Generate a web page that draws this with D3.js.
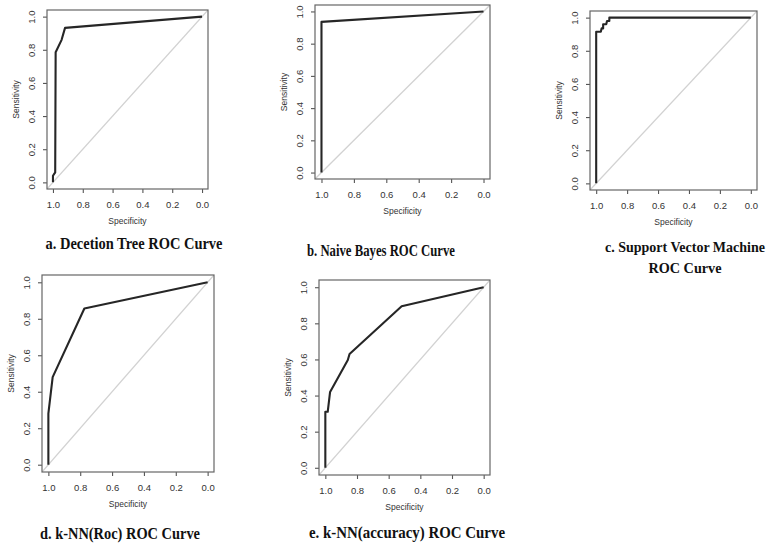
<!DOCTYPE html>
<html>
<head>
<meta charset="utf-8">
<script src="https://cdn.jsdelivr.net/npm/d3@7"></script>
<style>
  body { margin: 0; background: #fff; }
  svg { display: block; }
</style>
</head>
<body>
<div id="chart"></div>
<script>
// ROC curves: specificity (x, reversed) vs sensitivity (y)
const tickValues = [1.0, 0.8, 0.6, 0.4, 0.2, 0.0];

const treeSpec = [1, 1, 0.985, 0.982, 0.942, 0.919, 0];
const treeSens = [0, 0.04, 0.06, 0.785, 0.86, 0.932, 1];

const bayesSpec = [1, 1, 0];
const bayesSens = [0, 0.935, 1];

const svmSpec = [1, 1, 0.97, 0.965, 0.955, 0.955, 0.935, 0.93, 0.915, 0.915, 0];
const svmSens = [0, 0.915, 0.915, 0.935, 0.935, 0.96, 0.96, 0.98, 0.98, 1, 1];

const knnRocSpec = [1, 1, 0.973, 0.774, 0];
const knnRocSens = [0, 0.28, 0.48, 0.856, 1];

const knnAccSpec = [1, 1, 0.985, 0.97, 0.858, 0.847, 0.518, 0];
const knnAccSens = [0, 0.31, 0.31, 0.42, 0.597, 0.63, 0.895, 1];

const captions = [
  ['a. Decetion Tree ROC Curve'],
  ['b. Naive Bayes ROC Curve'],
  ['c. Support Vector Machine', 'ROC Curve'],
  ['d. k-NN(Roc) ROC Curve'],
  ['e. k-NN(accuracy) ROC Curve']
];

const series = [
  [treeSpec, treeSens],
  [bayesSpec, bayesSens],
  [svmSpec, svmSens],
  [knnRocSpec, knnRocSens],
  [knnAccSpec, knnAccSens]
];

// panel layout: plot box, caption position, width and size
const panels = [
  { x0: 47, x1: 208, y0: 10, y1: 189, cx: 134, cy: [249], cw: [177], fs: 16 },
  { x0: 315, x1: 490, y0: 5, y1: 179, cx: 381, cy: [256], cw: [148], fs: 16 },
  { x0: 590, x1: 757, y0: 11, y1: 190, cx: 685, cy: [252, 273], cw: [160, 73], fs: 14.5 },
  { x0: 42, x1: 214, y0: 275, y1: 472, cx: 120, cy: [539], cw: [160], fs: 16 },
  { x0: 319, x1: 490, y0: 280, y1: 475, cx: 407, cy: [538], cw: [196], fs: 16 }
];

const svgWidth = 772;
const svgHeight = 543;

const svg = d3.select('#chart')
  .append('svg')
  .attr('width', svgWidth)
  .attr('height', svgHeight);

const fmt = d3.format('.1f');
const tickFont = 'Liberation Sans, Arial, sans-serif';

panels.forEach((p, i) => {
  const [spec, sens] = series[i];
  const data = spec.map((s, j) => ({ spec: s, sens: sens[j] }));

  const xScale = d3.scaleLinear().domain([1.04, -0.04]).range([p.x0, p.x1]);
  const yScale = d3.scaleLinear().domain([-0.04, 1.04]).range([p.y1, p.y0]);

  const g = svg.append('g');

  // clip so the diagonal stays in the box
  g.append('clipPath').attr('id', 'clip' + i)
    .append('rect')
    .attr('x', p.x0).attr('y', p.y0)
    .attr('width', p.x1 - p.x0).attr('height', p.y1 - p.y0);

  g.append('line')
    .attr('clip-path', `url(#clip${i})`)
    .attr('x1', xScale(1.04)).attr('y1', yScale(-0.04))
    .attr('x2', xScale(-0.04)).attr('y2', yScale(1.04))
    .attr('stroke', '#d2d2d2')
    .attr('stroke-width', 1.3);

  // x axis
  const xAxis = g.append('g')
    .attr('transform', `translate(0, ${p.y1})`)
    .call(d3.axisBottom(xScale).tickValues(tickValues).tickFormat(fmt).tickSize(4).tickPadding(8));
  xAxis.select('.domain').remove();
  xAxis.selectAll('line').attr('stroke', '#555').attr('stroke-width', 1.1);
  xAxis.selectAll('text')
    .attr('fill', '#333')
    .attr('font-family', tickFont)
    .attr('font-size', 9.5);

  // y axis, labels rotated like R's default
  const yAxis = g.append('g')
    .attr('transform', `translate(${p.x0}, 0)`)
    .call(d3.axisLeft(yScale).tickValues(tickValues).tickFormat(fmt).tickSize(4));
  yAxis.select('.domain').remove();
  yAxis.selectAll('line').attr('stroke', '#555').attr('stroke-width', 1.1);
  yAxis.selectAll('text')
    .attr('transform', 'rotate(-90)')
    .attr('x', 0)
    .attr('y', -12)
    .attr('dy', 0)
    .attr('text-anchor', 'middle')
    .attr('fill', '#333')
    .attr('font-family', tickFont)
    .attr('font-size', 9.5);

  // box
  g.append('rect')
    .attr('x', p.x0).attr('y', p.y0)
    .attr('width', p.x1 - p.x0).attr('height', p.y1 - p.y0)
    .attr('fill', 'none')
    .attr('stroke', '#666')
    .attr('stroke-width', 1.2);

  // curve
  const line = d3.line()
    .x(d => xScale(d.spec))
    .y(d => yScale(d.sens));

  g.append('path')
    .datum(data)
    .attr('d', line)
    .attr('fill', 'none')
    .attr('stroke', '#262626')
    .attr('stroke-width', 2.1)
    .attr('stroke-linejoin', 'round');

  // axis titles
  g.append('text')
    .attr('x', (p.x0 + p.x1) / 2)
    .attr('y', p.y1 + 35)
    .attr('text-anchor', 'middle')
    .attr('font-family', tickFont)
    .attr('font-size', 8.5)
    .attr('fill', '#333')
    .text('Specificity');

  g.append('text')
    .attr('transform', `translate(${p.x0 - 28}, ${(p.y0 + p.y1) / 2}) rotate(-90)`)
    .attr('text-anchor', 'middle')
    .attr('font-family', tickFont)
    .attr('font-size', 8.5)
    .attr('fill', '#333')
    .text('Sensitivity');

  // caption
  captions[i].forEach((c, k) => {
    g.append('text')
      .attr('x', p.cx)
      .attr('y', p.cy[k])
      .attr('text-anchor', 'middle')
      .attr('font-family', 'Liberation Serif, Times New Roman, serif')
      .attr('font-weight', 'bold')
      .attr('font-size', p.fs)
      .attr('fill', '#111')
      .attr('textLength', p.cw[k])
      .attr('lengthAdjust', 'spacingAndGlyphs')
      .text(c);
  });
});
</script>
</body>
</html>
